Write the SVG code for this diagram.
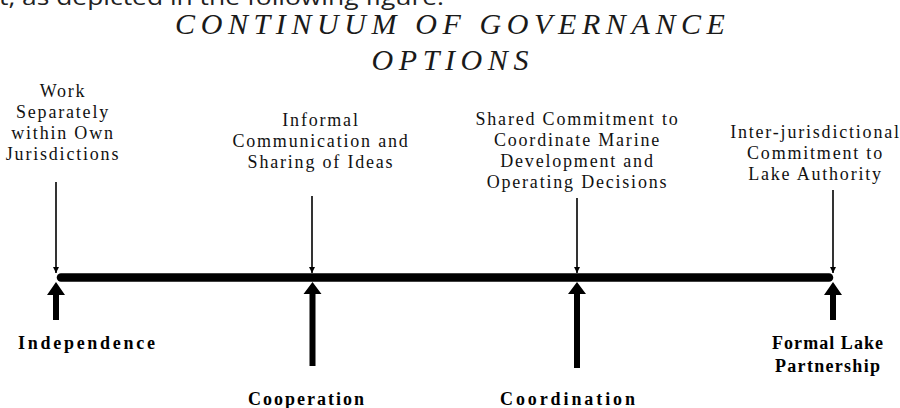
<svg xmlns="http://www.w3.org/2000/svg" width="900" height="408" viewBox="0 0 900 408">
<defs>
<style>
.bg{fill:#fff}
.intro{font-family:"Open Sans","Liberation Sans",sans-serif;font-size:22px;fill:#222}
.title{font-family:"Liberation Serif",serif;font-style:italic;font-size:30px;letter-spacing:5.6px;fill:#1a1a1a;text-anchor:middle}
.lbl{font-family:"Liberation Serif",serif;font-size:18px;letter-spacing:1.8px;fill:#111;text-anchor:middle}
.stage{font-family:"Liberation Serif",serif;font-weight:bold;font-size:18px;fill:#000;text-anchor:middle}
.thin{stroke:#000;stroke-width:1.6;fill:none;marker-end:url(#tip)}
.bar{stroke:#000;stroke-width:8.5;stroke-linecap:round;fill:none}
.thick{fill:#000}
</style>
<marker id="tip" viewBox="0 0 10 10" refX="10" refY="5" markerWidth="4" markerHeight="4" orient="auto" markerUnits="strokeWidth">
<path d="M0,0 L10,5 L0,10 z" fill="#000"/>
</marker>
</defs>
<rect class="bg" x="0" y="0" width="900" height="408"/>
<g id="intro-text"><text class="intro" x="-1" y="5" textLength="445" lengthAdjust="spacingAndGlyphs">t, as depicted in the following figure.</text></g>
<g id="title">
<text class="title" x="452.8" y="34">CONTINUUM OF GOVERNANCE</text>
<text class="title" x="452.8" y="70">OPTIONS</text>
</g>
<g id="label-work-separately">
<text class="lbl" x="63" y="96.5">Work</text>
<text class="lbl" x="63" y="117.5">Separately</text>
<text class="lbl" x="63" y="138.5">within Own</text>
<text class="lbl" x="63" y="159.5">Jurisdictions</text>
</g>
<g id="label-informal">
<text class="lbl" x="321" y="126">Informal</text>
<text class="lbl" x="321" y="147">Communication and</text>
<text class="lbl" x="321" y="168">Sharing of Ideas</text>
</g>
<g id="label-shared">
<text class="lbl" x="577.5" y="124.5">Shared Commitment to</text>
<text class="lbl" x="577.5" y="145.5">Coordinate Marine</text>
<text class="lbl" x="577.5" y="166.5">Development and</text>
<text class="lbl" x="577.5" y="187.5">Operating Decisions</text>
</g>
<g id="label-inter">
<text class="lbl" x="815.5" y="138">Inter-jurisdictional</text>
<text class="lbl" x="815.5" y="159">Commitment to</text>
<text class="lbl" x="815.5" y="180">Lake Authority</text>
</g>
<g id="stage-independence"><text class="stage" x="86.5" y="349" textLength="137" lengthAdjust="spacing">Independence</text></g>
<g id="stage-cooperation"><text class="stage" x="306" y="405" textLength="116" lengthAdjust="spacing">Cooperation</text></g>
<g id="stage-coordination"><text class="stage" x="567.5" y="405" textLength="135" lengthAdjust="spacing">Coordination</text></g>
<g id="stage-formal">
<text class="stage" x="827.5" y="349" textLength="111" lengthAdjust="spacing">Formal Lake</text>
<text class="stage" x="827.5" y="372" textLength="105" lengthAdjust="spacing">Partnership</text>
</g>
<g id="connectors">
<line class="bar" x1="61" y1="277.5" x2="829" y2="277.5"/>
<line class="thin" x1="56" y1="182" x2="56" y2="273"/>
<line class="thin" x1="312" y1="196" x2="312" y2="273"/>
<line class="thin" x1="577" y1="198" x2="577" y2="273"/>
<line class="thin" x1="833" y1="190" x2="833" y2="273"/>
<path class="thick" d="M56,282 L65,295 L59,295 L59,320 L53,320 L53,295 L47,295 Z"/>
<path class="thick" d="M312.5,282 L321.5,294 L315.5,294 L315.5,366 L309.5,366 L309.5,294 L303.5,294 Z"/>
<path class="thick" d="M577,282 L586,294 L580,294 L580,368 L574,368 L574,294 L568,294 Z"/>
<path class="thick" d="M833,282 L842,295 L836,295 L836,320 L830,320 L830,295 L824,295 Z"/>
</g>
</svg>
